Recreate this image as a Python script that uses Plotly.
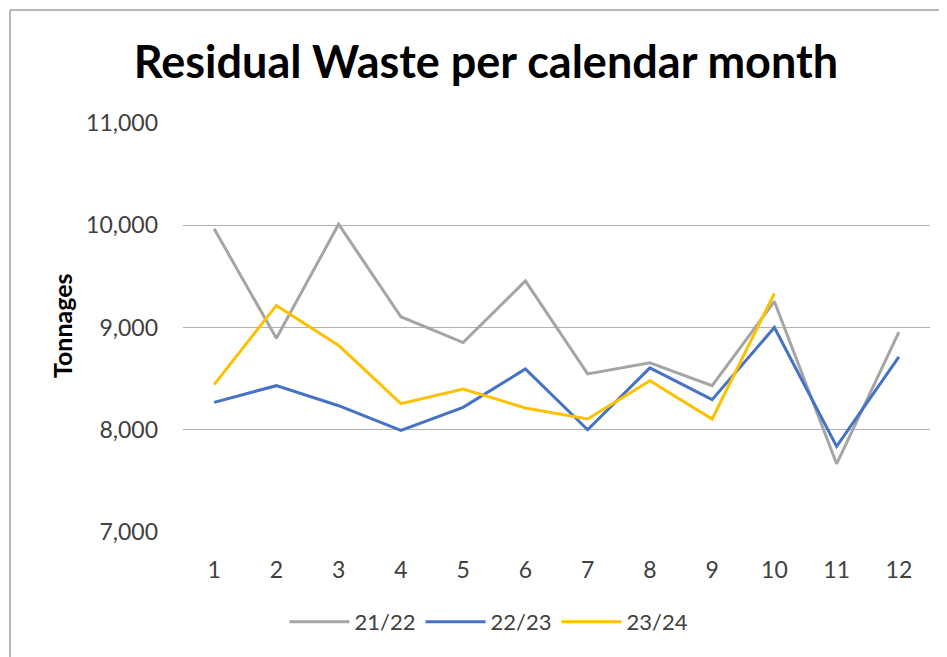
import plotly.graph_objects as go

months = [1, 2, 3, 4, 5, 6, 7, 8, 9, 10, 11, 12]
month_labels = ["1", "2", "3", "4", "5", "6", "7", "8", "9", "10", "11", "12"]
series_names = ["21/22", "22/23", "23/24"]
values_2122 = [9965, 8895, 10010, 9105, 8853, 9456, 8546, 8654, 8431, 9255, 7667, 8955]
values_2223 = [8268, 8431, 8235, 7993, 8219, 8595, 8000, 8605, 8294, 9000, 7837, 8712]
values_2324 = [8441, 9216, 8824, 8255, 8399, 8213, 8105, 8480, 8105, 9333]
y_ticks = [7000, 8000, 9000, 10000, 11000]
y_tick_labels = ["7,000", "8,000", "9,000", "10,000", "11,000"]

colors = ["#A5A5A5", "#4472C4", "#FFC000"]
all_values = [values_2122, values_2223, values_2324]

fig = go.Figure()
for name, vals, col in zip(series_names, all_values, colors):
    fig.add_trace(go.Scatter(
        x=months[:len(vals)], y=vals, name=name, mode="lines",
        line=dict(color=col, width=3),
    ))

# page offset of 8px (browser body margin)
OFF = 8
W, H = 947 - OFF, 657 - OFF
L = 183 - OFF
T = 123 - OFF
R = W - (930 - OFF)
B = H - (532 - OFF)
pw = W - L - R
ph = H - T - B


def px_x(px):
    return (px - OFF - L) / pw


def px_y(py):
    return (H - B - (py - OFF)) / ph


fig.update_layout(
    width=W, height=H,
    margin=dict(l=L, r=R, t=T, b=B, autoexpand=False),
    paper_bgcolor="white", plot_bgcolor="white",
    font=dict(family="Lato, 'Open Sans', sans-serif", color="#404040"),
    title=dict(
        text="<b>Residual Waste per calendar month</b>",
        x=(486 - OFF) / W, xref="container", xanchor="center",
        y=1 - (62 - OFF) / H, yref="container", yanchor="middle",
        font=dict(size=45, color="#000000", family="Lato, sans-serif"),
    ),
    xaxis=dict(
        range=[0.5, 12.5], tickmode="array", tickvals=months, ticktext=month_labels,
        showgrid=False, zeroline=False, showline=False, ticks="",
        tickfont=dict(size=23, color="#404040"), ticklabelstandoff=22,
    ),
    yaxis=dict(
        range=[7000, 11000], tickmode="array", tickvals=y_ticks, ticktext=y_tick_labels,
        showgrid=True, gridcolor="#B0B0B0", gridwidth=1, zeroline=False,
        showline=False, ticks="", tickfont=dict(size=23, color="#404040"),
        ticklabelstandoff=24,
    ),
    showlegend=True,
    legend=dict(
        orientation="h", x=px_x(489), xanchor="center",
        y=px_y(622), yanchor="middle",
        font=dict(size=22, color="#404040"),
        itemwidth=60, tracegroupgap=0,
    ),
    annotations=[dict(
        text="<b>Tonnages</b>", textangle=-90, showarrow=False,
        xref="paper", yref="paper", x=px_x(62), y=px_y(326),
        xanchor="center", yanchor="middle",
        font=dict(size=25, color="#000000"),
    )],
    shapes=[
        dict(type="line", xref="paper", yref="paper",
             x0=px_x(10), x1=px_x(960), y0=px_y(10), y1=px_y(10),
             line=dict(color="#A0A0A0", width=1.5)),
        dict(type="line", xref="paper", yref="paper",
             x0=px_x(10), x1=px_x(10), y0=px_y(10), y1=px_y(670),
             line=dict(color="#A0A0A0", width=1.5)),
    ],
)

fig.write_html("out.html")
